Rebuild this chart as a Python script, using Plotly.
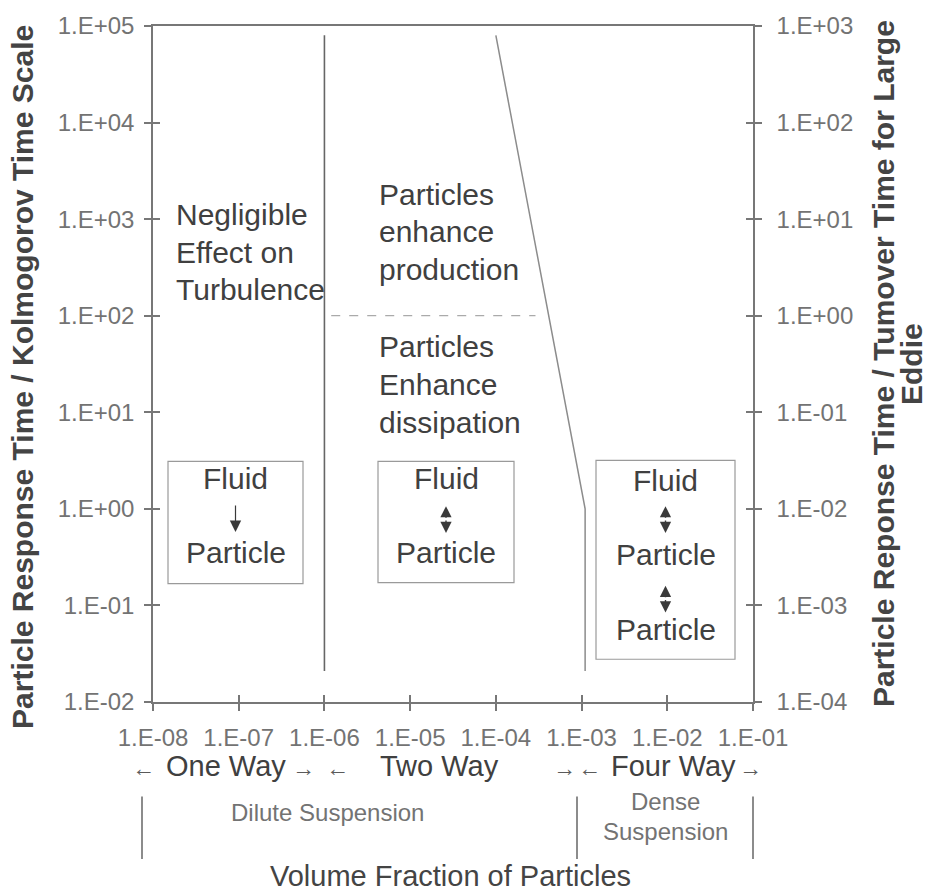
import plotly.graph_objects as go

# ---------------- data ----------------
x_tickvals = [1e-8, 1e-7, 1e-6, 1e-5, 1e-4, 1e-3, 1e-2, 1e-1]
x_ticktext = ["1.E-08", "1.E-07", "1.E-06", "1.E-05", "1.E-04", "1.E-03", "1.E-02", "1.E-01"]
y_tickvals = [1e-2, 1e-1, 1e0, 1e1, 1e2, 1e3, 1e4, 1e5]
y_ticktext = ["1.E-02", "1.E-01", "1.E+00", "1.E+01", "1.E+02", "1.E+03", "1.E+04", "1.E+05"]
y2_tickvals = [1e-4, 1e-3, 1e-2, 1e-1, 1e0, 1e1, 1e2, 1e3]
y2_ticktext = ["1.E-04", "1.E-03", "1.E-02", "1.E-01", "1.E+00", "1.E+01", "1.E+02", "1.E+03"]

# boundary between one-way and two-way coupling
one_two_x = [1e-6, 1e-6]
one_two_y = [0.021, 8e4]
# boundary between two-way and four-way coupling
two_four_x = [1e-4, 1.1e-3, 1.1e-3]
two_four_y = [8e4, 1.0, 0.021]
# production / dissipation separator
prod_diss_x = [1.2e-6, 2.9e-4]
prod_diss_y = [100, 100]

# ---------------- layout geometry (pixels) ----------------
W, H = 931, 892
PL, PR, PT, PB = 153, 753, 22, 702
FONT = "Liberation Sans, Arial, sans-serif"
AX = "#777777"
DARK = "#404040"
GREY = "#737373"


def px(x):
    return (x - PL) / (PR - PL)


def py(y):
    return (PB - y) / (PB - PT)


fig = go.Figure()
fig.add_trace(go.Scatter(x=one_two_x, y=one_two_y, mode="lines",
                         line=dict(color="#666666", width=1.6),
                         showlegend=False, hoverinfo="skip"))
fig.add_trace(go.Scatter(x=two_four_x, y=two_four_y, mode="lines",
                         line=dict(color="#8c8c8c", width=1.5),
                         showlegend=False, hoverinfo="skip"))
fig.add_trace(go.Scatter(x=prod_diss_x, y=prod_diss_y, mode="lines",
                         line=dict(color="#aaaaaa", width=1.2, dash="dash"),
                         showlegend=False, hoverinfo="skip"))
# empty traces to activate secondary axes
for xa, ya in [("x2", "y3"), ("x", "y2"), ("x", "y4")]:
    fig.add_trace(go.Scatter(x=[], y=[], xaxis=xa, yaxis=ya, showlegend=False,
                             hoverinfo="skip"))

common = dict(showgrid=False, zeroline=False, tickcolor=AX, tickwidth=1.5, ticklen=7,
              tickfont=dict(family=FONT, size=24, color=GREY))

fig.update_layout(
    width=W, height=H,
    margin=dict(l=PL, r=W - PR, t=PT, b=H - PB),
    paper_bgcolor="white", plot_bgcolor="white",
    xaxis=dict(type="log", range=[-8, -1], tickvals=x_tickvals, ticktext=x_ticktext,
               ticks="outside", showline=True, linecolor=AX, linewidth=1.5, mirror=True,
               ticklabelstandoff=6, **common),
    xaxis2=dict(type="log", range=[-8, -1], tickvals=x_tickvals, overlaying="x",
                anchor="y", side="bottom", ticks="inside", showticklabels=False,
                showline=False, **common),
    yaxis=dict(type="log", range=[-2, 5], tickvals=y_tickvals, ticktext=y_ticktext,
               ticks="outside", showline=True, linecolor=AX, linewidth=1.5,
               ticklabelstandoff=5, **common),
    yaxis2=dict(type="log", range=[-4, 3], tickvals=y2_tickvals, ticktext=y2_ticktext,
                overlaying="y", side="right", anchor="x", ticks="outside",
                showline=True, linecolor=AX, linewidth=1.5, ticklabelstandoff=10, **common),
    yaxis3=dict(type="log", range=[-2, 5], tickvals=y_tickvals, overlaying="y",
                side="left", anchor="x", ticks="inside", showticklabels=False,
                showline=False, **common),
    yaxis4=dict(type="log", range=[-4, 3], tickvals=y2_tickvals, overlaying="y",
                side="right", anchor="x", ticks="inside", showticklabels=False,
                showline=False, **common),
)

ann = []


def text(t, x, y, size=30, color=DARK, xanchor="center", align="center", bold=False,
         angle=0):
    if bold:
        t = "<b>" + t + "</b>"
    ann.append(dict(text=t, x=px(x), y=py(y), xref="paper", yref="paper",
                    xanchor=xanchor, yanchor="middle", align=align, showarrow=False,
                    textangle=angle, font=dict(family=FONT, size=size, color=color)))


def arrow(x, y_head, dy, size=1.6, width=1.4):
    ann.append(dict(text="", x=px(x), y=py(y_head), xref="paper", yref="paper",
                    showarrow=True, ax=0, ay=dy, arrowhead=2, arrowsize=size,
                    arrowwidth=width, arrowcolor="#3a3a3a", standoff=0, startstandoff=0))


# region texts (one annotation per line)
for t, yy in [("Negligible", 212), ("Effect on", 250), ("Turbulence", 287)]:
    text(t, 174, yy, xanchor="left", align="left")
for t, yy in [("Particles", 191), ("enhance", 229), ("production", 267)]:
    text(t, 377, yy, xanchor="left", align="left")
for t, yy in [("Particles", 344), ("Enhance", 383), ("dissipation", 421)]:
    text(t, 377, yy, xanchor="left", align="left")

# boxes
boxes = [(168, 303, 460, 583), (378, 514, 460, 582), (596, 735, 459, 659)]
shapes = []
for x0, x1, y0, y1 in boxes:
    shapes.append(dict(type="rect", xref="paper", yref="paper", x0=px(x0), x1=px(x1),
                       y0=py(y1), y1=py(y0), line=dict(color="#9a9a9a", width=1.2)))

c1, c2, c3 = 235.5, 446, 665.5
text("Fluid", c1, 477)
text("Particle", c1, 552)
arrow(c1, 531, -28, size=1.9, width=1.2)
text("Fluid", c2, 477)
text("Particle", c2, 552)
arrow(c2, 505, 13)
arrow(c2, 532, -14)
text("Fluid", c3, 479)
text("Particle", c3, 554)
text("Particle", c3, 629)
arrow(c3, 505, 13)
arrow(c3, 532, -14)
arrow(c3, 585, 13)
arrow(c3, 612, -14)

# coupling regime row
AR = dict(size=23, color="#5a5a5a")
text("←", 143.5, 768, **AR)
text("One Way", 226, 766, size=29)
text("→", 303, 768, **AR)
text("←", 337.5, 768, **AR)
text("Two Way", 439, 766, size=29)
text("→", 564, 768, **AR)
text("←", 589, 768, **AR)
text("Four Way", 673, 766, size=29)
text("→", 750, 768, **AR)

# suspension row
text("Dilute Suspension", 327, 813, size=24, color=GREY)
text("Dense", 665, 802, size=24, color=GREY)
text("Suspension", 665, 832, size=24, color=GREY)
for xs in [142, 577, 753]:
    shapes.append(dict(type="line", xref="paper", yref="paper", x0=px(xs), x1=px(xs),
                       y0=py(860), y1=py(797), line=dict(color="#666666", width=1.5)))

# axis titles
text("Volume Fraction of Particles", 450, 877, size=29, color="#444444")
text("Particle Response Time / Kolmogorov Time Scale", 23, 375, size=30,
     color="#444444", bold=True, angle=-90)
text("Particle Reponse Time / Tumover Time for Large", 883, 361, size=30,
     color="#444444", bold=True, angle=-90)
text("Eddie", 911, 362, size=30, color="#444444", bold=True, angle=-90)

fig.update_layout(annotations=ann, shapes=shapes)
fig.write_html("out.html")
